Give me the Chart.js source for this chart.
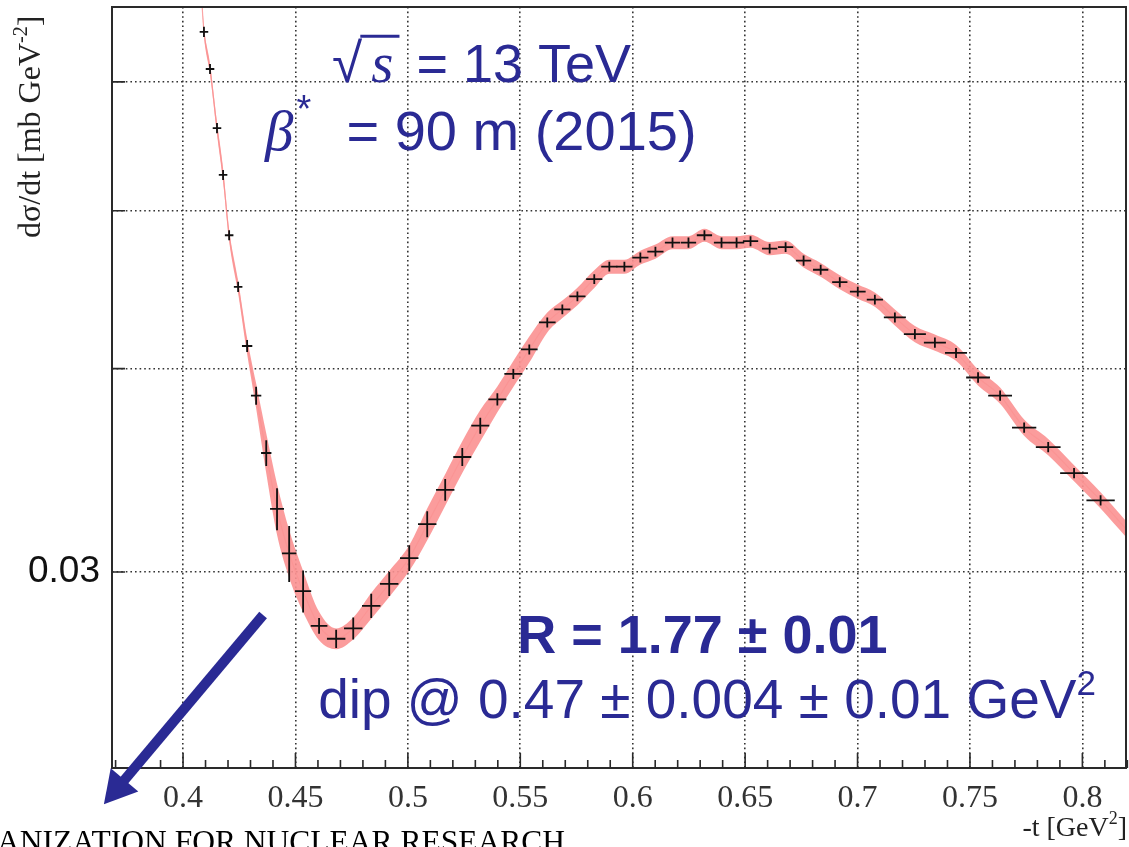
<!DOCTYPE html>
<html>
<head>
<meta charset="utf-8">
<script src="https://cdn.jsdelivr.net/npm/chart.js@4.4.1/dist/chart.umd.min.js"></script>
<style>
  html, body { margin: 0; padding: 0; background: #fff; }
  #wrap { width: 1129px; height: 847px; overflow: hidden; }
</style>
</head>
<body>
<div id="wrap"><canvas id="chart" width="1129" height="847"></canvas></div>
<script>
"use strict";

// TOTEM dσ/dt around the diffractive dip, 13 TeV, beta* = 90 m.

const SANS = "'Liberation Sans', Arial, sans-serif";
const SERIF = "'Liberation Serif', 'Times New Roman', serif";
const BLUE = "#2a2a94";

// ---- Axes ----
const X_MIN = 0.3684, X_MAX = 0.8194;
const Y_MIN = 0.02274, Y_MAX = 0.0667;
const xTickValues = [0.4, 0.45, 0.5, 0.55, 0.6, 0.65, 0.7, 0.75, 0.8];
const xTickLabels = ["0.4", "0.45", "0.5", "0.55", "0.6", "0.65", "0.7", "0.75", "0.8"];
const yTickValues = [0.03, 0.04, 0.05, 0.06];
const yTickLabels = ["0.03", "", "", ""];

// ---- Data points (-t in GeV², dσ/dt in mb/GeV²) ----
const tValues = [
  0.4093, 0.4120, 0.4151, 0.4178, 0.4205, 0.4245, 0.4285, 0.4325, 0.4370, 0.4418,
  0.4472, 0.4534, 0.4605, 0.4681, 0.4757, 0.4837, 0.4917, 0.5006, 0.5086, 0.5166,
  0.5242, 0.5322, 0.5398, 0.5469, 0.5540, 0.5620, 0.5687, 0.5754, 0.5829, 0.5896,
  0.5963, 0.6034, 0.6101, 0.6177, 0.6248, 0.6319, 0.6395, 0.6462, 0.6524, 0.6609,
  0.6680, 0.6760, 0.6836, 0.6921, 0.7001, 0.7077, 0.7166, 0.7255, 0.7344, 0.7438,
  0.7536, 0.7634, 0.7741, 0.7848, 0.7963, 0.8081,
];
const dsdtValues = [
  0.0644, 0.0611, 0.0562, 0.0526, 0.0483, 0.0449, 0.0413, 0.0385, 0.0355, 0.0328,
  0.0308, 0.0292, 0.0278, 0.0273, 0.0277, 0.0286, 0.0295, 0.0306, 0.0321, 0.0337,
  0.0353, 0.0369, 0.0383, 0.0397, 0.0411, 0.0427, 0.0435, 0.0443, 0.0454, 0.0462,
  0.0462, 0.0468, 0.0472, 0.0478, 0.0478, 0.0483, 0.0478, 0.0478, 0.0479, 0.0474,
  0.0475, 0.0466, 0.0460, 0.0452, 0.0446, 0.0441, 0.0430, 0.0420, 0.0415, 0.0409,
  0.0395, 0.0385, 0.0368, 0.0358, 0.0345, 0.0332,
];
const tErr = [
  0.0019, 0.0019, 0.0019, 0.0019, 0.0019, 0.0019, 0.0023, 0.0023, 0.0023, 0.0031,
  0.0032, 0.0036, 0.0037, 0.0041, 0.0041, 0.0041, 0.0041, 0.0041, 0.0041, 0.0041,
  0.0040, 0.0040, 0.0040, 0.0040, 0.0037, 0.0037, 0.0036, 0.0036, 0.0036, 0.0036,
  0.0036, 0.0036, 0.0036, 0.0034, 0.0034, 0.0034, 0.0034, 0.0034, 0.0034, 0.0034,
  0.0034, 0.0034, 0.0034, 0.0034, 0.0035, 0.0036, 0.0049, 0.0049, 0.0049, 0.0049,
  0.0053, 0.0053, 0.0054, 0.0055, 0.0062, 0.0063,
];
const dsdtErr = [
  0.00046, 0.00043, 0.00040, 0.00037, 0.00034, 0.00032, 0.00035, 0.00049, 0.00065, 0.00097,
  0.00122, 0.00087, 0.00031, 0.00035, 0.00043, 0.00049, 0.00050, 0.00056, 0.00059, 0.00052,
  0.00045, 0.00042, 0.00033, 0.00028, 0.00029, 0.00030, 0.00030, 0.00031, 0.00031, 0.00032,
  0.00032, 0.00033, 0.00033, 0.00034, 0.00034, 0.00034, 0.00034, 0.00034, 0.00034, 0.00033,
  0.00033, 0.00033, 0.00032, 0.00032, 0.00031, 0.00031, 0.00030, 0.00030, 0.00030, 0.00029,
  0.00029, 0.00028, 0.00027, 0.00026, 0.00025, 0.00024,
];

// ---- Fit band (centre and half width) ----
const bandT = [0.4085, ...tValues, 0.8201];
const bandMid = [0.0667, ...dsdtValues, 0.0318];
const bandHalf = [
  0.00038,
  0.00043, 0.00048, 0.00048, 0.00051, 0.00041, 0.00040, 0.00046, 0.00068, 0.00100, 0.00118,
  0.00104, 0.00085, 0.00056, 0.00040, 0.00043, 0.00052, 0.00054, 0.00056, 0.00072, 0.00075,
  0.00079, 0.00082, 0.00070, 0.00073, 0.00076, 0.00060, 0.00054, 0.00055, 0.00057, 0.00046,
  0.00046, 0.00046, 0.00047, 0.00044, 0.00044, 0.00044, 0.00044, 0.00044, 0.00044, 0.00044,
  0.00044, 0.00045, 0.00045, 0.00045, 0.00045, 0.00045, 0.00049, 0.00048, 0.00047, 0.00046,
  0.00045, 0.00044, 0.00042, 0.00041, 0.00039, 0.00038,
  0.00036,
];

// ---- Annotations (anchored in data coordinates) ----
const arrowFrom = { t: 0.4356, y: 0.02823 };
const arrowTo = { t: 0.3648, y: 0.0216 };

const labels = [
  { t: 0.4663, y: 0.0600, runs: [
    { text: "\u221A", font: `55px ${SANS}` },
    { text: "s", font: `italic 57px ${SERIF}`, padL: 9, overline: true },
    { text: " = 13 TeV", font: `54px ${SANS}`, padL: 8 },
  ] },
  { t: 0.4365, y: 0.0545, runs: [
    { text: "\u03B2", font: `italic 57px ${SERIF}` },
    { text: "*", font: `38px ${SANS}`, dy: -28, padL: 3 },
    { text: "  = 90 m (2015)", font: `56px ${SANS}`, padL: 4 },
  ] },
  { t: 0.5486, y: 0.02675, runs: [
    { text: "R = 1.77 \u00B1 0.01", font: `bold 54px ${SANS}` },
  ] },
  { t: 0.4601, y: 0.0244, runs: [
    { text: "dip @ 0.47 \u00B1 0.004 \u00B1 0.01 GeV", font: `55px ${SANS}` },
    { text: "2", font: `35px ${SANS}`, dy: -23 },
  ] },
];

// ---- Drawing helpers ----

function drawRuns(ctx, runs, x, y, color) {
  ctx.fillStyle = color;
  ctx.strokeStyle = color;
  ctx.textAlign = "left";
  ctx.textBaseline = "alphabetic";
  let cx = x;
  for (const r of runs) {
    ctx.font = r.font;
    cx += r.padL || 0;
    const w = ctx.measureText(r.text).width;
    ctx.fillText(r.text, cx, y + (r.dy || 0));
    if (r.overline) {
      const size = parseFloat(r.font.match(/(\d+)px/)[1]);
      ctx.lineWidth = 3;
      ctx.beginPath();
      ctx.moveTo(cx - (r.padL || 0) - 2, y - size * 0.8);
      ctx.lineTo(cx + w + 6, y - size * 0.8);
      ctx.stroke();
    }
    cx += w;
  }
  return cx - x;
}

function runsWidth(ctx, runs) {
  let w = 0;
  for (const r of runs) {
    ctx.font = r.font;
    w += (r.padL || 0) + ctx.measureText(r.text).width;
  }
  return w;
}

const decorations = {
  id: "decorations",
  afterDatasetsDraw(chart) {
    const { ctx, chartArea: a, scales: { x, y } } = chart;

    // Error bars
    ctx.save();
    ctx.beginPath();
    ctx.rect(a.left, a.top, a.right - a.left, a.bottom - a.top);
    ctx.clip();
    ctx.strokeStyle = "#101010";
    ctx.lineWidth = 1.8;
    tValues.forEach((t, i) => {
      const px = x.getPixelForValue(t);
      const py = y.getPixelForValue(dsdtValues[i]);
      ctx.beginPath();
      ctx.moveTo(x.getPixelForValue(t - tErr[i]), py);
      ctx.lineTo(x.getPixelForValue(t + tErr[i]), py);
      ctx.moveTo(px, y.getPixelForValue(dsdtValues[i] - dsdtErr[i]));
      ctx.lineTo(px, y.getPixelForValue(dsdtValues[i] + dsdtErr[i]));
      ctx.stroke();
    });
    ctx.restore();

    // Frame and inward ticks
    ctx.save();
    ctx.strokeStyle = "#2a2a2a";
    ctx.lineWidth = 2;
    ctx.strokeRect(a.left, a.top, a.right - a.left, a.bottom - a.top);
    ctx.lineWidth = 1.6;
    ctx.beginPath();
    for (let k = 37; k <= 82; k++) {
      const v = k / 100;
      const major = k % 5 === 0;
      const px = x.getPixelForValue(v);
      ctx.moveTo(px, a.bottom);
      ctx.lineTo(px, a.bottom - (major ? 15 : 8));
    }
    for (const v of yTickValues) {
      const py = y.getPixelForValue(v);
      ctx.moveTo(a.left, py);
      ctx.lineTo(a.left + 13, py);
    }
    ctx.stroke();
    ctx.restore();
  },
  afterDraw(chart) {
    const { ctx, scales: { x, y } } = chart;
    ctx.save();

    // Axis titles (ROOT style, at the ends)
    const yTitle = [
      { text: "d\u03C3/dt [mb GeV", font: `32px ${SERIF}` },
      { text: "-2", font: `20px ${SERIF}`, dy: -13 },
      { text: "]", font: `32px ${SERIF}` },
    ];
    ctx.save();
    ctx.translate(40, 238);
    ctx.rotate(-Math.PI / 2);
    drawRuns(ctx, yTitle, 0, 0, "#222");
    ctx.restore();

    const xTitle = [
      { text: "-t [GeV", font: `28px ${SERIF}` },
      { text: "2", font: `18px ${SERIF}`, dy: -12 },
      { text: "]", font: `28px ${SERIF}` },
    ];
    drawRuns(ctx, xTitle, 1127 - runsWidth(ctx, xTitle), 836, "#222");

    // Slide footer, cut by the bottom edge
    ctx.font = `31.5px ${SERIF}`;
    ctx.fillStyle = "#000";
    ctx.textAlign = "right";
    ctx.fillText("ORGANIZATION FOR NUCLEAR RESEARCH", 565, 852);

    // Blue text
    for (const l of labels) {
      drawRuns(ctx, l.runs, x.getPixelForValue(l.t), y.getPixelForValue(l.y), BLUE);
    }

    // Arrow
    const ax = x.getPixelForValue(arrowFrom.t), ay = y.getPixelForValue(arrowFrom.y);
    const bx = x.getPixelForValue(arrowTo.t), by = y.getPixelForValue(arrowTo.y);
    const len = Math.hypot(bx - ax, by - ay);
    const ux = (bx - ax) / len, uy = (by - ay) / len;
    const headLen = 32, headHalf = 18;
    ctx.strokeStyle = BLUE;
    ctx.fillStyle = BLUE;
    ctx.lineWidth = 10;
    ctx.lineCap = "butt";
    ctx.beginPath();
    ctx.moveTo(ax, ay);
    ctx.lineTo(bx - ux * (headLen - 4), by - uy * (headLen - 4));
    ctx.stroke();
    ctx.beginPath();
    ctx.moveTo(bx, by);
    ctx.lineTo(bx - ux * headLen - uy * headHalf, by - uy * headLen + ux * headHalf);
    ctx.lineTo(bx - ux * headLen + uy * headHalf, by - uy * headLen - ux * headHalf);
    ctx.closePath();
    ctx.fill();

    ctx.restore();
  },
};

// ---- Chart ----

const bandUpper = bandT.map((t, i) => ({ x: t, y: bandMid[i] + bandHalf[i] }));
const bandLower = bandT.map((t, i) => ({ x: t, y: bandMid[i] - bandHalf[i] }));
const bandLine = bandT.map((t, i) => ({ x: t, y: bandMid[i] }));
const points = tValues.map((t, i) => ({ x: t, y: dsdtValues[i] }));

new Chart(document.getElementById("chart"), {
  type: "scatter",
  data: {
    datasets: [
      {
        type: "line", data: bandUpper, fill: "+1",
        backgroundColor: "rgba(251, 145, 145, 0.9)", borderWidth: 0,
        pointRadius: 0, cubicInterpolationMode: "monotone",
      },
      {
        type: "line", data: bandLower, fill: false,
        borderWidth: 0, pointRadius: 0, cubicInterpolationMode: "monotone",
      },
      {
        type: "line", data: bandLine, fill: false,
        borderColor: "rgba(250, 165, 165, 0.85)", borderWidth: 1.2,
        pointRadius: 0, cubicInterpolationMode: "monotone",
      },
      { data: points, pointRadius: 0, backgroundColor: "#000" },
    ],
  },
  options: {
    responsive: false,
    animation: false,
    layout: { padding: { top: 7, right: 3, left: 0, bottom: 0 } },
    plugins: { legend: { display: false }, tooltip: { enabled: false } },
    scales: {
      x: {
        type: "linear", min: X_MIN, max: X_MAX,
        afterBuildTicks: (s) => { s.ticks = xTickValues.map((v) => ({ value: v })); },
        afterFit: (s) => { s.height = 79; s.paddingLeft = 0; s.paddingRight = 0; },
        ticks: {
          callback: (v, i) => xTickLabels[i],
          font: { family: SERIF, size: 32 }, color: "#333",
          padding: 11, maxRotation: 0, autoSkip: false,
        },
        grid: { color: "#333", lineWidth: 1.6, drawTicks: false },
        border: { display: false, dash: [1.6, 3] },
      },
      y: {
        type: "logarithmic", min: Y_MIN, max: Y_MAX,
        afterBuildTicks: (s) => { s.ticks = yTickValues.map((v) => ({ value: v })); },
        afterFit: (s) => { s.width = 112; s.paddingTop = 0; s.paddingBottom = 0; },
        ticks: {
          callback: (v, i) => yTickLabels[i],
          font: { family: SANS, size: 37 }, color: "#111",
          padding: 12, autoSkip: false,
        },
        grid: { color: "#333", lineWidth: 1.6, drawTicks: false },
        border: { display: false, dash: [1.6, 3] },
      },
    },
  },
  plugins: [decorations],
});
</script>
</body>
</html>
